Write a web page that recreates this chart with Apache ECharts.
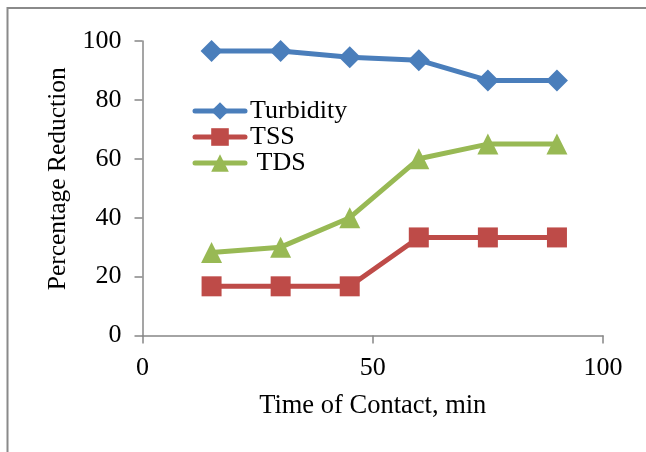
<!DOCTYPE html>
<html>
<head>
<meta charset="utf-8">
<script src="https://cdn.jsdelivr.net/npm/echarts@6/dist/echarts.min.js"></script>
<style>
  html, body { margin: 0; padding: 0; background: #fff; }
  #chart { width: 646px; height: 452px; }
</style>
</head>
<body>
<div id="chart"></div>
<script>
// Contact time (min) and percentage reduction for each water-quality parameter
const contactTime = [15, 30, 45, 60, 75, 90];
const turbidity = [96.6, 96.6, 94.5, 93.5, 86.6, 86.6];
const tss = [16.7, 16.7, 16.7, 33.3, 33.3, 33.3];
const tds = [28.2, 30, 40, 60, 65, 65];
const xTicks = [0, 50, 100];
const yTicks = [0, 20, 40, 60, 80, 100];

const FONT = '"Liberation Serif", "Times New Roman", serif';
const AXIS_GRAY = '#878787';

function pairs(ys) {
  return contactTime.map((x, i) => [x, ys[i]]);
}

const chart = echarts.init(document.getElementById('chart'), null, { renderer: 'canvas' });

chart.setOption({
  backgroundColor: '#ffffff',
  animation: false,
  textStyle: { fontFamily: FONT, color: '#000' },
  graphic: [{
    type: 'polyline',
    shape: { points: [[7.5, 460], [7.5, 8], [660, 8]] },
    style: { stroke: '#8a8a8a', lineWidth: 2, fill: null },
    silent: true
  }],
  grid: { left: 142.5, right: 43, top: 41, bottom: 116.5, containLabel: false },
  legend: {
    left: 192.5,
    top: 98,
    padding: 0,
    orient: 'vertical',
    itemWidth: 50,
    itemHeight: 22,
    itemGap: 0,
    lineStyle: { width: 5, cap: 'round' },
    textStyle: { fontFamily: FONT, fontSize: 26, color: '#000', lineHeight: 22 },
    data: ['Turbidity', 'TSS', ' TDS']
  },
  xAxis: {
    type: 'value',
    min: xTicks[0],
    max: xTicks[xTicks.length - 1],
    interval: 50,
    name: 'Time of Contact, min',
    nameLocation: 'middle',
    nameGap: 57,
    nameTextStyle: { fontFamily: FONT, fontSize: 26.5, color: '#000' },
    axisLine: { onZero: false, lineStyle: { color: AXIS_GRAY, width: 1.5 } },
    axisTick: { show: true, length: 8, inside: false, lineStyle: { color: AXIS_GRAY, width: 1.5 } },
    axisLabel: { margin: 20, fontFamily: FONT, fontSize: 26, color: '#000' },
    splitLine: { show: false }
  },
  yAxis: {
    type: 'value',
    min: yTicks[0],
    max: yTicks[yTicks.length - 1],
    interval: 20,
    name: 'Percentage Reduction',
    nameLocation: 'middle',
    nameGap: 71,
    nameRotate: 90,
    nameTextStyle: { fontFamily: FONT, fontSize: 25.5, color: '#000', padding: [0, 0, 0, 19] },
    axisLine: { show: true, lineStyle: { color: AXIS_GRAY, width: 1.5 } },
    axisTick: { show: true, length: 8, inside: false, lineStyle: { color: AXIS_GRAY, width: 1.5 } },
    axisLabel: { margin: 21, fontFamily: FONT, fontSize: 26, color: '#000' },
    splitLine: { show: false }
  },
  series: [
    {
      name: 'Turbidity',
      type: 'line',
      data: pairs(turbidity),
      symbol: 'diamond',
      symbolSize: 22,
      lineStyle: { color: '#4A7EBB', width: 5 },
      itemStyle: { color: '#4A7EBB' }
    },
    {
      name: 'TSS',
      type: 'line',
      data: pairs(tss),
      symbol: 'rect',
      symbolSize: 20,
      lineStyle: { color: '#BE4B48', width: 5 },
      itemStyle: { color: '#BE4B48' }
    },
    {
      name: ' TDS',
      type: 'line',
      data: pairs(tds),
      symbol: 'triangle',
      symbolSize: 21,
      lineStyle: { color: '#98B954', width: 5 },
      itemStyle: { color: '#98B954' }
    }
  ]
});
</script>
</body>
</html>
